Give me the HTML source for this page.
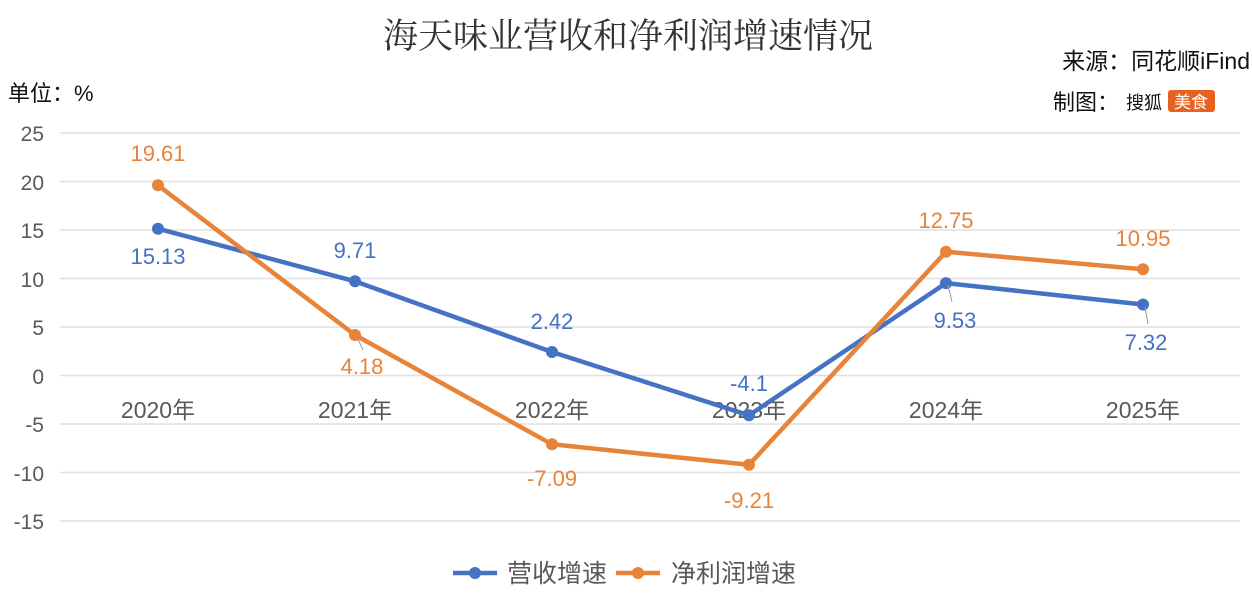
<!DOCTYPE html>
<html><head><meta charset="utf-8"><style>
body{margin:0;background:#fff;}
svg{display:block;}
text{font-family:"Liberation Sans","Noto Sans CJK SC",sans-serif;}
</style></head><body>
<svg width="1252" height="602" viewBox="0 0 1252 602" xmlns="http://www.w3.org/2000/svg">
<text x="628" y="48" text-anchor="middle" font-size="35" fill="#333" style="font-family:'Liberation Serif','Noto Serif CJK SC',serif">海天味业营收和净利润增速情况</text>
<text x="1250" y="69" text-anchor="end" font-size="23" fill="#111">来源：同花顺iFind</text>
<text x="1053" y="110" font-size="22" fill="#111">制图：</text>
<text x="1126" y="109" font-size="18" fill="#111">搜狐</text>
<rect x="1168" y="90" width="47" height="22" rx="3" fill="#e8621f"/>
<text x="1191" y="108" text-anchor="middle" font-size="17" fill="#fff">美食</text>
<text x="8" y="101" font-size="22" fill="#111">单位：%</text>
<g stroke="#e0e0e0" stroke-width="1.5">
<line x1="60" x2="1240" y1="133" y2="133"/><line x1="60" x2="1240" y1="181.5" y2="181.5"/>
<line x1="60" x2="1240" y1="230" y2="230"/><line x1="60" x2="1240" y1="278.5" y2="278.5"/>
<line x1="60" x2="1240" y1="327" y2="327"/><line x1="60" x2="1240" y1="375.5" y2="375.5"/>
<line x1="60" x2="1240" y1="424" y2="424"/><line x1="60" x2="1240" y1="472.5" y2="472.5"/>
<line x1="60" x2="1240" y1="521" y2="521"/>
</g>
<g font-size="21" fill="#595959" text-anchor="end">
<text x="44" y="141">25</text><text x="44" y="190">20</text><text x="44" y="238">15</text>
<text x="44" y="287">10</text><text x="44" y="335">5</text><text x="44" y="384">0</text>
<text x="44" y="432">-5</text><text x="44" y="481">-10</text><text x="44" y="529">-15</text>
</g>
<g font-size="23" fill="#595959" text-anchor="middle">
<text x="158" y="418">2020年</text><text x="355" y="418">2021年</text><text x="552" y="418">2022年</text>
<text x="749" y="418">2023年</text><text x="946" y="418">2024年</text><text x="1143" y="418">2025年</text>
</g>
<polyline fill="none" stroke="#4472C4" stroke-width="4.5" stroke-linejoin="round" points="158,228.7 355,281.3 552,352 749,415.3 946,283.1 1143,304.5"/>
<g fill="#4472C4"><circle cx="158" cy="228.7" r="6"/><circle cx="355" cy="281.3" r="6"/><circle cx="552" cy="352" r="6"/><circle cx="749" cy="415.3" r="6"/><circle cx="946" cy="283.1" r="6"/><circle cx="1143" cy="304.5" r="6"/></g>
<polyline fill="none" stroke="#E8833A" stroke-width="4.5" stroke-linejoin="round" points="158,185.3 355,335 552,444.3 749,464.8 946,251.8 1143,269.3"/>
<g fill="#E8833A"><circle cx="158" cy="185.3" r="6"/><circle cx="355" cy="335" r="6"/><circle cx="552" cy="444.3" r="6"/><circle cx="749" cy="464.8" r="6"/><circle cx="946" cy="251.8" r="6"/><circle cx="1143" cy="269.3" r="6"/></g>
<g stroke="#999" stroke-width="1"><line x1="357" y1="337" x2="363" y2="350"/><line x1="948" y1="285" x2="952" y2="302"/><line x1="1145" y1="307" x2="1148" y2="324"/></g>
<g font-size="22" text-anchor="middle" fill="#4472C4">
<text x="158" y="264">15.13</text><text x="355" y="258">9.71</text><text x="552" y="329">2.42</text>
<text x="749" y="391">-4.1</text><text x="955" y="328">9.53</text><text x="1146" y="350">7.32</text>
</g>
<g font-size="22" text-anchor="middle" fill="#E8833A">
<text x="158" y="161">19.61</text><text x="362" y="374">4.18</text><text x="552" y="486">-7.09</text>
<text x="749" y="508">-9.21</text><text x="946" y="228">12.75</text><text x="1143" y="246">10.95</text>
</g>
<line x1="453" x2="497" y1="573" y2="573" stroke="#4472C4" stroke-width="4.5"/><circle cx="475" cy="573" r="6" fill="#4472C4"/>
<text x="507" y="582" font-size="25" fill="#595959">营收增速</text>
<line x1="616" x2="660" y1="573" y2="573" stroke="#E8833A" stroke-width="4.5"/><circle cx="638" cy="573" r="6" fill="#E8833A"/>
<text x="671" y="582" font-size="25" fill="#595959">净利润增速</text>
</svg>
</body></html>
